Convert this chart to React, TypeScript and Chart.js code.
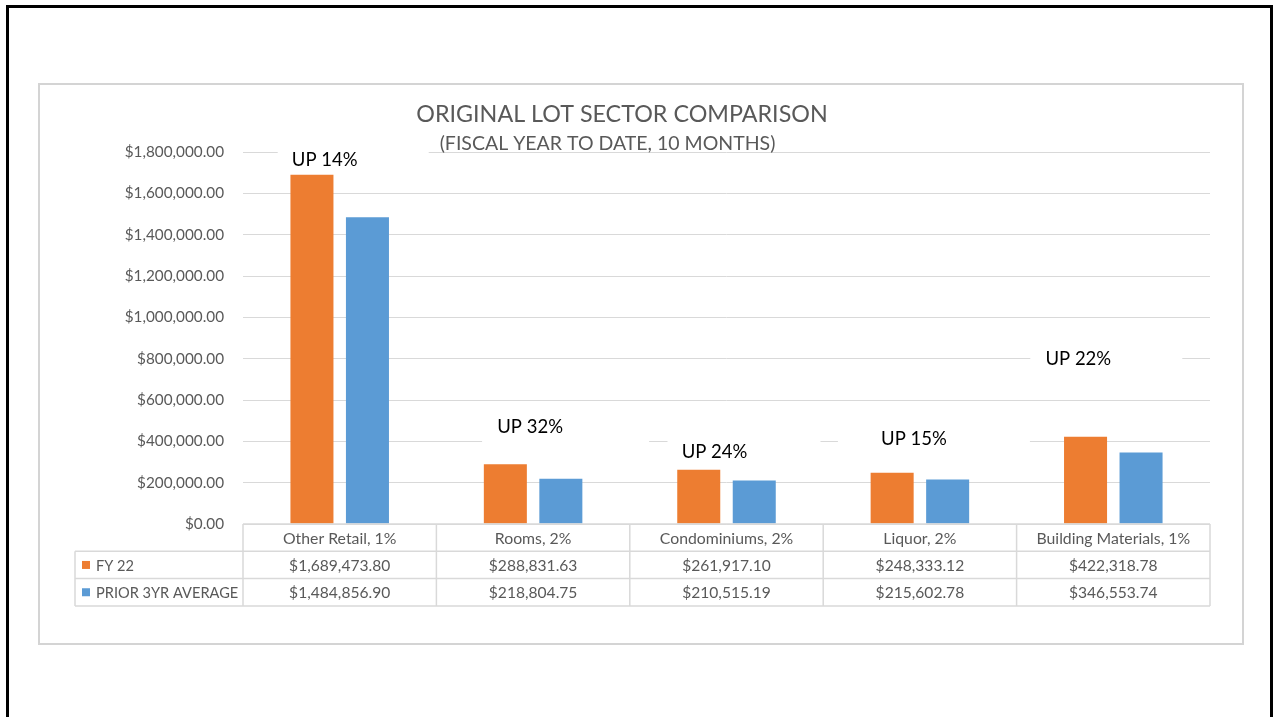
import React, { useEffect, useRef } from "react";
import { Chart, registerables } from "chart.js";

Chart.register(...registerables);

// ---------- data ----------
const categories = ["Other Retail, 1%", "Rooms, 2%", "Condominiums, 2%", "Liquor, 2%", "Building Materials, 1%"];
const fy22 = [1689473.8, 288831.63, 261917.1, 248333.12, 422318.78];
const prior3yr = [1484856.9, 218804.75, 210515.19, 215602.78, 346553.74];
const seriesNames = ["FY 22", "PRIOR 3YR AVERAGE"];
const changeLabels = ["UP 14%", "UP 32%", "UP 24%", "UP 15%", "UP 22%"];
const yMin = 0;
const yMax = 1800000;
const yStep = 200000;
const chartTitle = "ORIGINAL LOT SECTOR COMPARISON";
const chartSubtitle = "(FISCAL YEAR TO DATE, 10 MONTHS)";

// ---------- placement / styling ----------
const labelAnchorValue = [1762000, 470000, 349000, 412000, 799000];
const labelOffsetX = [-15, -3, -12, -6, -35];
const maskLeft = [-47, -48, -47, -76, -48];
const maskRight = [104, 119, 106, 116, 104];

const W = 1275;
const H = 717;
const FONT = "Lato, 'Open Sans', sans-serif";
const GRAY = "#595959";
const LINE = "#d9d9d9";
const ORANGE = "#ED7D31";
const BLUE = "#5B9BD5";
const colors = [ORANGE, BLUE];

const money = (v: number) =>
  "$" + v.toLocaleString("en-US", { minimumFractionDigits: 2, maximumFractionDigits: 2 });

const decor = {
  id: "decor",
  beforeDraw(chart: any) {
    const ctx = chart.ctx;
    ctx.save();
    ctx.fillStyle = "#fff";
    ctx.fillRect(0, 0, W, H);
    ctx.fillStyle = "#000";
    ctx.fillRect(6, 5, 3, H);
    ctx.fillRect(6, 5, 1267, 3);
    ctx.fillRect(1270, 5, 3, H);
    ctx.strokeStyle = "#d4d4d4";
    ctx.lineWidth = 2;
    ctx.strokeRect(39, 84, 1204, 560);
    ctx.restore();
  },
  beforeDatasetsDraw(chart: any) {
    const ctx = chart.ctx;
    const xs = chart.scales.x;
    const ys = chart.scales.y;
    ctx.save();
    ctx.fillStyle = "#fff";
    changeLabels.forEach((_, i) => {
      const cx = xs.getPixelForValue(i) + labelOffsetX[i];
      const cy = ys.getPixelForValue(labelAnchorValue[i]);
      ctx.fillRect(cx + maskLeft[i], cy - 17, maskRight[i] - maskLeft[i], 34);
    });
    ctx.restore();
  },
  afterDatasetsDraw(chart: any) {
    const ctx = chart.ctx;
    const xs = chart.scales.x;
    const ys = chart.scales.y;
    const area = chart.chartArea;
    ctx.save();

    // title
    ctx.fillStyle = GRAY;
    ctx.textAlign = "center";
    ctx.textBaseline = "middle";
    ctx.font = `23.3px ${FONT}`;
    ctx.fillText(chartTitle, 622, 114);
    ctx.font = `19.5px ${FONT}`;
    ctx.fillText(chartSubtitle, 607.5, 144);

    // change labels
    ctx.fillStyle = "#000";
    ctx.font = `18.5px ${FONT}`;
    changeLabels.forEach((t, i) => {
      const cx = xs.getPixelForValue(i) + labelOffsetX[i];
      const cy = ys.getPixelForValue(labelAnchorValue[i]);
      ctx.fillText(t, cx, cy);
    });

    // data table
    const n = categories.length;
    const colW = (area.right - area.left) / n;
    const rowH = 27.3;
    const top = area.bottom;
    const r1 = top + rowH;
    const r2 = top + rowH * 2;
    const r3 = top + rowH * 3;
    const legendLeft = 75;
    ctx.strokeStyle = LINE;
    ctx.lineWidth = 1.5;
    ctx.beginPath();
    ctx.moveTo(area.left, top);
    ctx.lineTo(area.right, top);
    [r1, r2, r3].forEach((y) => {
      ctx.moveTo(legendLeft, y);
      ctx.lineTo(area.right, y);
    });
    ctx.moveTo(legendLeft, r1);
    ctx.lineTo(legendLeft, r3);
    for (let i = 0; i <= n; i++) {
      const x = area.left + colW * i;
      ctx.moveTo(x, top);
      ctx.lineTo(x, r3);
    }
    ctx.stroke();

    ctx.fillStyle = GRAY;
    ctx.textAlign = "center";
    categories.forEach((c, i) => {
      const cx = xs.getPixelForValue(i);
      ctx.font = `15.8px ${FONT}`;
      ctx.fillText(c, cx, top + rowH / 2 + 1);
      ctx.font = `15.6px ${FONT}`;
      ctx.fillText(money(fy22[i]), cx, r1 + rowH / 2 + 1);
      ctx.fillText(money(prior3yr[i]), cx, r2 + rowH / 2 + 1);
    });

    ctx.textAlign = "left";
    ctx.font = `14.6px ${FONT}`;
    seriesNames.forEach((s, k) => {
      const cy = (k === 0 ? r1 : r2) + rowH / 2;
      ctx.fillStyle = colors[k];
      ctx.fillRect(82, cy - 4, 8, 8);
      ctx.fillStyle = GRAY;
      ctx.fillText(s, 96, cy + 1);
    });

    ctx.restore();
  },
};

export default function App() {
  const ref = useRef<HTMLCanvasElement>(null);

  useEffect(() => {
    if (!ref.current) return;
    const chart = new Chart(ref.current, {
      type: "bar",
      data: {
        labels: categories,
        datasets: [
          { label: seriesNames[0], data: fy22, backgroundColor: ORANGE },
          { label: seriesNames[1], data: prior3yr, backgroundColor: BLUE },
        ],
      },
      options: {
        responsive: false,
        maintainAspectRatio: false,
        devicePixelRatio: 1,
        animation: false,
        layout: { padding: { left: 0, right: 65, top: 152, bottom: 193 } },
        datasets: { bar: { categoryPercentage: 0.574, barPercentage: 0.775 } },
        plugins: {
          legend: { display: false },
          title: { display: false },
          tooltip: { enabled: false },
        },
        scales: {
          x: { display: false },
          y: {
            min: yMin,
            max: yMax,
            border: { display: false },
            grid: { color: LINE, lineWidth: 1, drawTicks: false },
            ticks: {
              stepSize: yStep,
              padding: 19,
              color: GRAY,
              font: { family: FONT, size: 15.3 },
              callback: (v: any) => money(Number(v)),
            },
            afterFit: (s: any) => {
              s.width = 243;
            },
          },
        },
      } as any,
      plugins: [decor],
    });
    return () => chart.destroy();
  }, []);

  return (
    <div style={{ position: "fixed", left: 0, top: 0, width: W, height: H, background: "#fff" }}>
      <canvas ref={ref} width={W} height={H} style={{ display: "block", width: W, height: H }} />
    </div>
  );
}
